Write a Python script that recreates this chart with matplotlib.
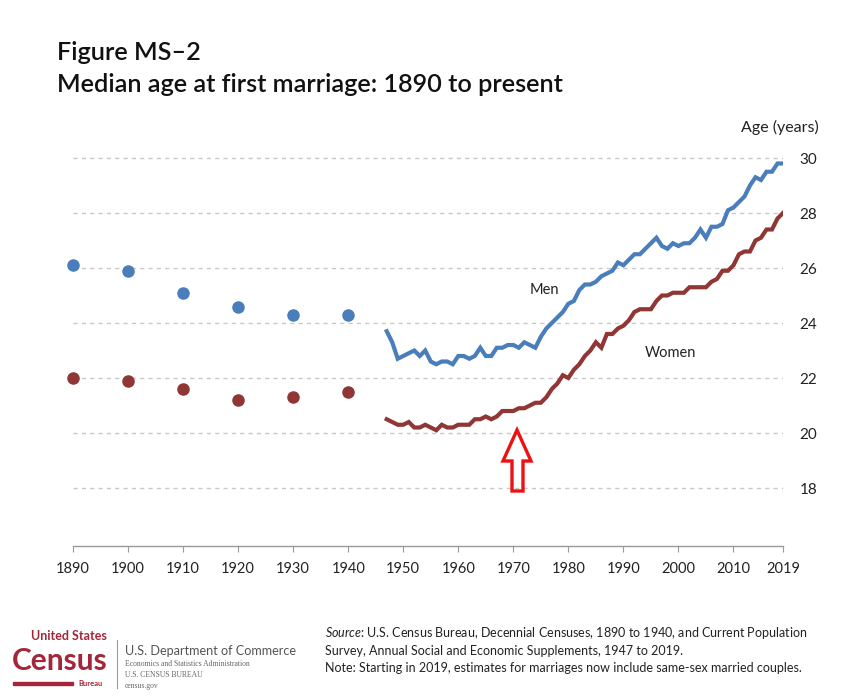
import matplotlib
matplotlib.use("Agg")
import matplotlib.pyplot as plt
from matplotlib.patches import Polygon

plt.rcParams['font.family'] = ['Lato', 'DejaVu Sans']
plt.rcParams['mathtext.fontset'] = 'custom'
plt.rcParams['mathtext.it'] = 'Lato:italic'
plt.rcParams['mathtext.rm'] = 'Lato'

# decennial census values
census_years = [1890, 1900, 1910, 1920, 1930, 1940]
census_men = [26.1, 25.9, 25.1, 24.6, 24.3, 24.3]
census_women = [22.0, 21.9, 21.6, 21.2, 21.3, 21.5]

# CPS annual values 1947-2019
cps_years = list(range(1947, 2020))
cps_men = [23.7, 23.3, 22.7, 22.8, 22.9, 23.0, 22.8, 23.0, 22.6, 22.5,
           22.6, 22.6, 22.5, 22.8, 22.8, 22.7, 22.8, 23.1, 22.8, 22.8,
           23.1, 23.1, 23.2, 23.2, 23.1, 23.3, 23.2, 23.1, 23.5, 23.8,
           24.0, 24.2, 24.4, 24.7, 24.8, 25.2, 25.4, 25.4, 25.5, 25.7,
           25.8, 25.9, 26.2, 26.1, 26.3, 26.5, 26.5, 26.7, 26.9, 27.1,
           26.8, 26.7, 26.9, 26.8, 26.9, 26.9, 27.1, 27.4, 27.1, 27.5,
           27.5, 27.6, 28.1, 28.2, 28.4, 28.6, 29.0, 29.3, 29.2, 29.5,
           29.5, 29.8, 29.8]
cps_women = [20.5, 20.4, 20.3, 20.3, 20.4, 20.2, 20.2, 20.3, 20.2, 20.1,
             20.3, 20.2, 20.2, 20.3, 20.3, 20.3, 20.5, 20.5, 20.6, 20.5,
             20.6, 20.8, 20.8, 20.8, 20.9, 20.9, 21.0, 21.1, 21.1, 21.3,
             21.6, 21.8, 22.1, 22.0, 22.3, 22.5, 22.8, 23.0, 23.3, 23.1,
             23.6, 23.6, 23.8, 23.9, 24.1, 24.4, 24.5, 24.5, 24.5, 24.8,
             25.0, 25.0, 25.1, 25.1, 25.1, 25.3, 25.3, 25.3, 25.3, 25.5,
             25.6, 25.9, 25.9, 26.1, 26.5, 26.6, 26.6, 27.0, 27.1, 27.4,
             27.4, 27.8, 28.0]

x_ticks = [1890, 1900, 1910, 1920, 1930, 1940, 1950, 1960, 1970, 1980,
           1990, 2000, 2010, 2019]
y_ticks = [18, 20, 22, 24, 26, 28, 30]

blue = "#4a7ebb"
red = "#903634"
ink = "#222222"

W, H = 863, 698
fig = plt.figure(figsize=(W / 100, H / 100), dpi=100)
ax = fig.add_axes([73 / W, (H - 545.75) / H, 710 / W, (545.75 - 149.75) / H])
ax.set_xlim(1890, 2019)
ax.set_ylim(15.9, 30.3)

for y in y_ticks:
    ax.axhline(y, color="#c8c8c8", lw=1.0, ls=(0, (3, 3)), zorder=0)

ax.plot(census_years, census_men, "o", color=blue, ms=8, clip_on=False)
ax.plot(census_years, census_women, "o", color=red, ms=8, clip_on=False)
ax.plot(cps_years, cps_men, color=blue, lw=3, solid_joinstyle="miter")
ax.plot(cps_years, cps_women, color=red, lw=3, solid_joinstyle="miter")

for s in ["top", "left", "right"]:
    ax.spines[s].set_visible(False)
ax.spines["bottom"].set_color("#999999")
ax.spines["bottom"].set_linewidth(1.0)
ax.set_xticks(x_ticks)
ax.set_xticklabels([str(t) for t in x_ticks])
ax.tick_params(axis="x", direction="out", length=4, color="#999999",
               labelsize=10.5, pad=8, labelcolor=ink)
ax.yaxis.tick_right()
ax.set_yticks(y_ticks)
ax.tick_params(axis="y", length=0, labelsize=11, pad=12, labelcolor=ink)

ax.text(1975.6, 25.2, "Men", fontsize=10.5, ha="center", va="center", color=ink)
ax.text(1998.5, 22.9, "Women", fontsize=10.5, ha="center", va="center", color=ink)
ax.text(2018.5, 31.1, "Age (years)", fontsize=11.5, ha="center", va="center",
        color=ink, clip_on=False)

# red hollow arrow annotation
arrow = [(517, 430), (531, 461), (523, 461), (523, 491), (512, 491),
         (512, 461), (503, 461)]
fig.patches.append(Polygon([(x / W, 1 - y / H) for x, y in arrow], closed=True,
                           fill=False, edgecolor="#ee1111", lw=2.4,
                           joinstyle="miter", transform=fig.transFigure,
                           figure=fig))

# titles
fig.text(57 / W, 1 - 53 / H, "Figure MS\u20132", fontsize=18.2,
         fontweight="semibold", va="center", color="#111111")
fig.text(57 / W, 1 - 84 / H, "Median age at first marriage: 1890 to present",
         fontsize=18.2, fontweight="semibold", va="center", color="#111111")

# footer
fig.text(325 / W, 1 - 633 / H,
         r"$\it{Source}$" + ": U.S. Census Bureau, Decennial Censuses, 1890 to 1940, and Current Population",
         fontsize=9, va="center", color=ink)
fig.text(325 / W, 1 - 651 / H,
         "Survey, Annual Social and Economic Supplements, 1947 to 2019.",
         fontsize=9, va="center", color=ink)
fig.text(325 / W, 1 - 668 / H,
         "Note: Starting in 2019, estimates for marriages now include same-sex married couples.",
         fontsize=9, va="center", color=ink)

# census logo
logo_red = "#a3263a"
fig.text(31 / W, 1 - 636 / H, "United States", fontsize=9, fontweight="bold",
         color=logo_red, va="center")
fig.text(12 / W, 1 - 661 / H, "Census", fontsize=21.5, fontweight="bold",
         color=logo_red, va="center")
fig.patches.append(plt.Rectangle((13 / W, 1 - 685 / H), 60 / W, 3 / H,
                                 color=logo_red, transform=fig.transFigure,
                                 figure=fig))
fig.text(78 / W, 1 - 683 / H, "Bureau", fontsize=5.5, fontweight="bold",
         color=logo_red, va="center")
fig.lines.append(plt.Line2D([117 / W, 117 / W], [1 - 640 / H, 1 - 688 / H],
                            color="#999999", lw=0.8, transform=fig.transFigure,
                            figure=fig))
fig.text(125 / W, 1 - 651 / H, "U.S. Department of Commerce", fontsize=9.1,
         color="#555555", va="center")
fig.text(125 / W, 1 - 664 / H, "Economics and Statistics Administration",
         fontsize=5.5, color="#666666", va="center", family="Liberation Serif")
fig.text(125 / W, 1 - 675 / H, "U.S. CENSUS BUREAU", fontsize=5.5,
         color="#666666", va="center", family="Liberation Serif")
fig.text(125 / W, 1 - 686 / H, "census.gov", fontsize=5.5, color="#666666",
         va="center", family="Liberation Serif")

fig.savefig("out.png", dpi=100)
